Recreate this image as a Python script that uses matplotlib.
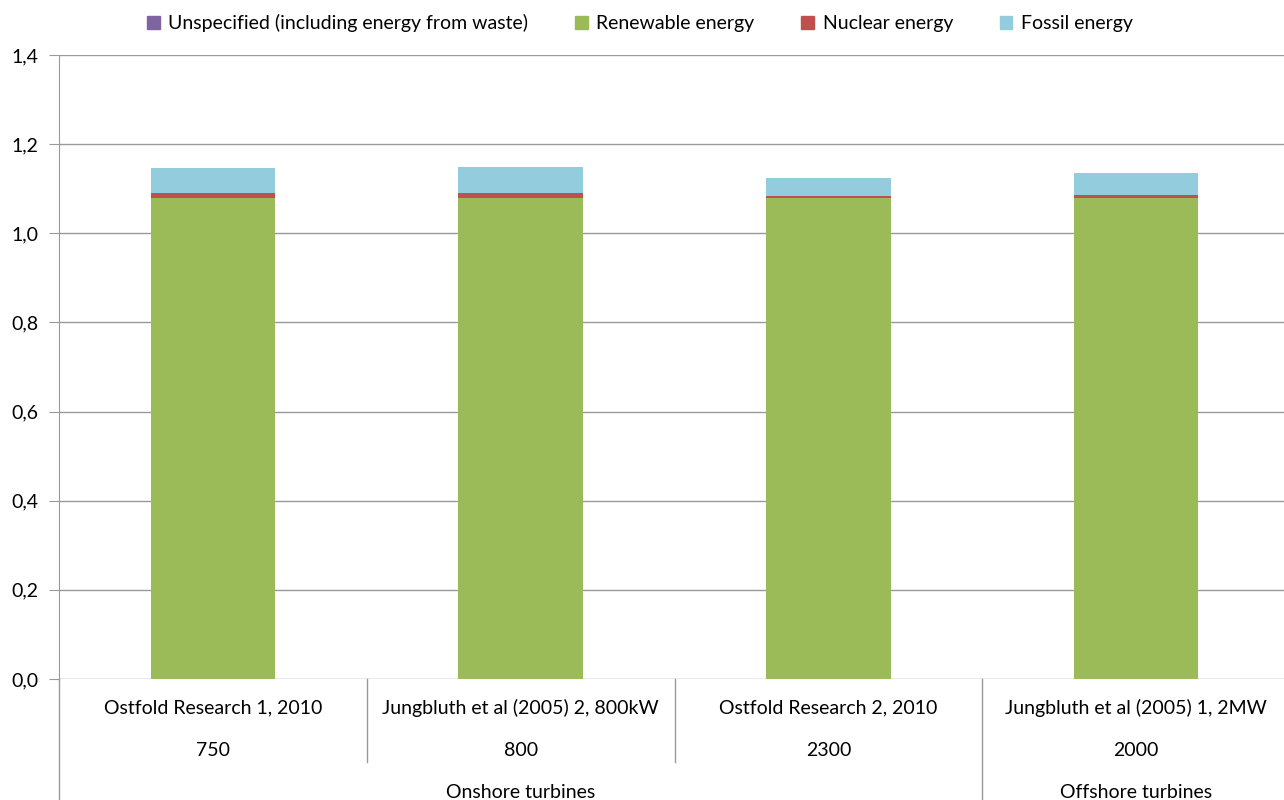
import matplotlib.pyplot as plt
from matplotlib.patches import Patch
from matplotlib.ticker import FuncFormatter

plt.rcParams['font.family'] = ['Lato', 'DejaVu Sans']

studies = ['Ostfold Research 1, 2010', 'Jungbluth et al (2005) 2, 800kW',
           'Ostfold Research 2, 2010', 'Jungbluth et al (2005) 1, 2MW']
sizes = ['750', '800', '2300', '2000']
groups = ['Onshore turbines', 'Offshore turbines']
group_spans = [(0, 2), (3, 3)]

renewable = [1.080, 1.080, 1.080, 1.079]
nuclear = [0.010, 0.010, 0.003, 0.007]
fossil = [0.056, 0.059, 0.040, 0.049]
unspecified = [0.0, 0.0, 0.0, 0.0]

c_unsp = '#8064A2'
c_ren = '#9BBB59'
c_nuc = '#C0504D'
c_fos = '#93CDDD'

fig = plt.figure(figsize=(12.84, 8), dpi=100)
ax = fig.add_axes([59 / 1284, 1 - 679 / 800, 1231 / 1284, 624 / 800])

x = list(range(len(studies)))
w = 0.405
b1 = renewable
b2 = [a + b for a, b in zip(b1, nuclear)]
b3 = [a + b for a, b in zip(b2, fossil)]
ax.bar(x, renewable, w, color=c_ren, zorder=3)
ax.bar(x, nuclear, w, bottom=b1, color=c_nuc, zorder=3)
ax.bar(x, fossil, w, bottom=b2, color=c_fos, zorder=3)
ax.bar(x, unspecified, w, bottom=b3, color=c_unsp, zorder=3)

ax.set_xlim(-0.5, len(studies) - 0.5)
ax.set_ylim(0, 1.4)
ax.set_yticks([i * 0.2 for i in range(8)])
ax.yaxis.set_major_formatter(FuncFormatter(lambda v, p: f'{v:.1f}'.replace('.', ',')))
ax.grid(axis='y', color='#999999', linewidth=1, zorder=0)
for s in ['top', 'right', 'bottom']:
    ax.spines[s].set_visible(False)
ax.spines['left'].set_color('#999999')
ax.tick_params(axis='y', length=7, color='#999999', labelsize=14, pad=8)
ax.tick_params(axis='x', bottom=False, labelbottom=False)

fs = 14
tr = ax.get_xaxis_transform()
px = 1 / 624  # one pixel in axes-y units
for i in x:
    ax.text(i, -29 * px, studies[i], transform=tr, ha='center', va='center', fontsize=fs)
    ax.text(i, -71 * px, sizes[i], transform=tr, ha='center', va='center', fontsize=fs)
for i in range(1, len(studies)):
    bottom = -121 * px if i == 3 else -83 * px
    ax.plot([i - 0.5, i - 0.5], [0, bottom], transform=tr, color='#999999',
            linewidth=1, clip_on=False)
ax.plot([-0.5, -0.5], [0, -121 * px], transform=tr, color='#999999', linewidth=1, clip_on=False)
for name, (a, b) in zip(groups, group_spans):
    ax.text((a + b) / 2, -114 * px, name, transform=tr, ha='center', va='center', fontsize=fs)

handles = [Patch(color=c_unsp), Patch(color=c_ren), Patch(color=c_nuc), Patch(color=c_fos)]
labels = ['Unspecified (including energy from waste)', 'Renewable energy',
          'Nuclear energy', 'Fossil energy']
fig.legend(handles, labels, loc='center', bbox_to_anchor=(640 / 1284, 1 - 23 / 800),
           ncol=4, frameon=False, fontsize=fs, handlelength=0.65, handleheight=0.65,
           handletextpad=0.45, columnspacing=2.4)

fig.savefig('out.png', dpi=100)
